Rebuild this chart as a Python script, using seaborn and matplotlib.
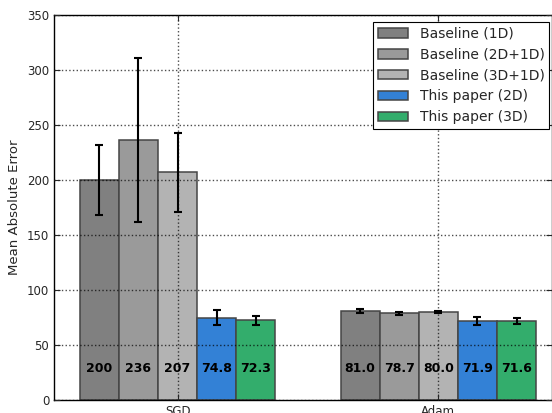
import matplotlib
matplotlib.use("Agg")
import matplotlib.pyplot as plt
import pandas as pd
import seaborn as sns

optimizers = ["SGD", "Adam"]
methods = ["Baseline (1D)", "Baseline (2D+1D)", "Baseline (3D+1D)",
           "This paper (2D)", "This paper (3D)"]
sgd_mae = [200, 236, 207, 74.8, 72.3]
adam_mae = [81.0, 78.7, 80.0, 71.9, 71.6]
sgd_err = [31.5, 74.5, 36.0, 7.0, 4.0]
adam_err = [1.5, 1.0, 1.0, 3.5, 2.5]
sgd_labels = ["200", "236", "207", "74.8", "72.3"]
adam_labels = ["81.0", "78.7", "80.0", "71.9", "71.6"]
colors = ["#808080", "#9a9a9a", "#b3b3b3", "#3381d6", "#33ad6c"]

df = pd.DataFrame({
    "optimizer": [o for o in optimizers for _ in methods],
    "method": methods * 2,
    "mae": sgd_mae + adam_mae,
    "err": sgd_err + adam_err,
    "label": sgd_labels + adam_labels,
})

sns.set_style("white")
plt.rcParams['font.family'] = ['DejaVu Sans']

fig = plt.figure(figsize=(5.52, 4.13), dpi=100)
ax = fig.add_axes([54 / 552, 13 / 413, 1 - 54 / 552, 385 / 413])

sns.barplot(data=df, x="optimizer", y="mae", hue="method", order=optimizers,
            hue_order=methods, palette=colors, width=0.75, errorbar=None,
            edgecolor="#454545", linewidth=1.1, saturation=1, ax=ax)

for cont, m in zip(ax.containers, methods):
    sub = df[df.method == m].set_index("optimizer").loc[optimizers]
    xs = [p.get_x() + p.get_width() / 2 for p in cont]
    ax.errorbar(xs, sub["mae"], yerr=sub["err"], fmt="none", ecolor="black",
                elinewidth=1.5, capsize=3, capthick=1.5, zorder=4)
    for x, lab in zip(xs, sub["label"]):
        ax.text(x, 29, lab, ha="center", va="center", fontsize=9,
                fontweight="bold", color="black", zorder=5)

ax.set_ylim(0, 350)
ax.set_xlim(-0.474, 1.436)
ax.set_yticks(range(0, 351, 50))
ax.grid(True, color="black", linestyle=":", linewidth=1, alpha=0.7)
ax.set_axisbelow(False)
ax.tick_params(axis="both", labelsize=8.5, direction="in", length=4,
               left=True, right=True, top=True, bottom=True)
ax.set_xlabel("")
ax.set_ylabel("Mean Absolute Error", fontsize=9.5, labelpad=4)
for s in ax.spines.values():
    s.set_color("black")
    s.set_linewidth(1)

leg = ax.legend(loc="upper left", bbox_to_anchor=(373 / 552, 1 - 21.7 / 413),
                bbox_transform=fig.transFigure, borderaxespad=0,
                fontsize=10, frameon=True, fancybox=False,
                edgecolor="black", framealpha=1, borderpad=0.35,
                handlelength=2.2, labelspacing=0.5)
leg.get_frame().set_linewidth(0.8)

fig.savefig("out.png", dpi=100)
